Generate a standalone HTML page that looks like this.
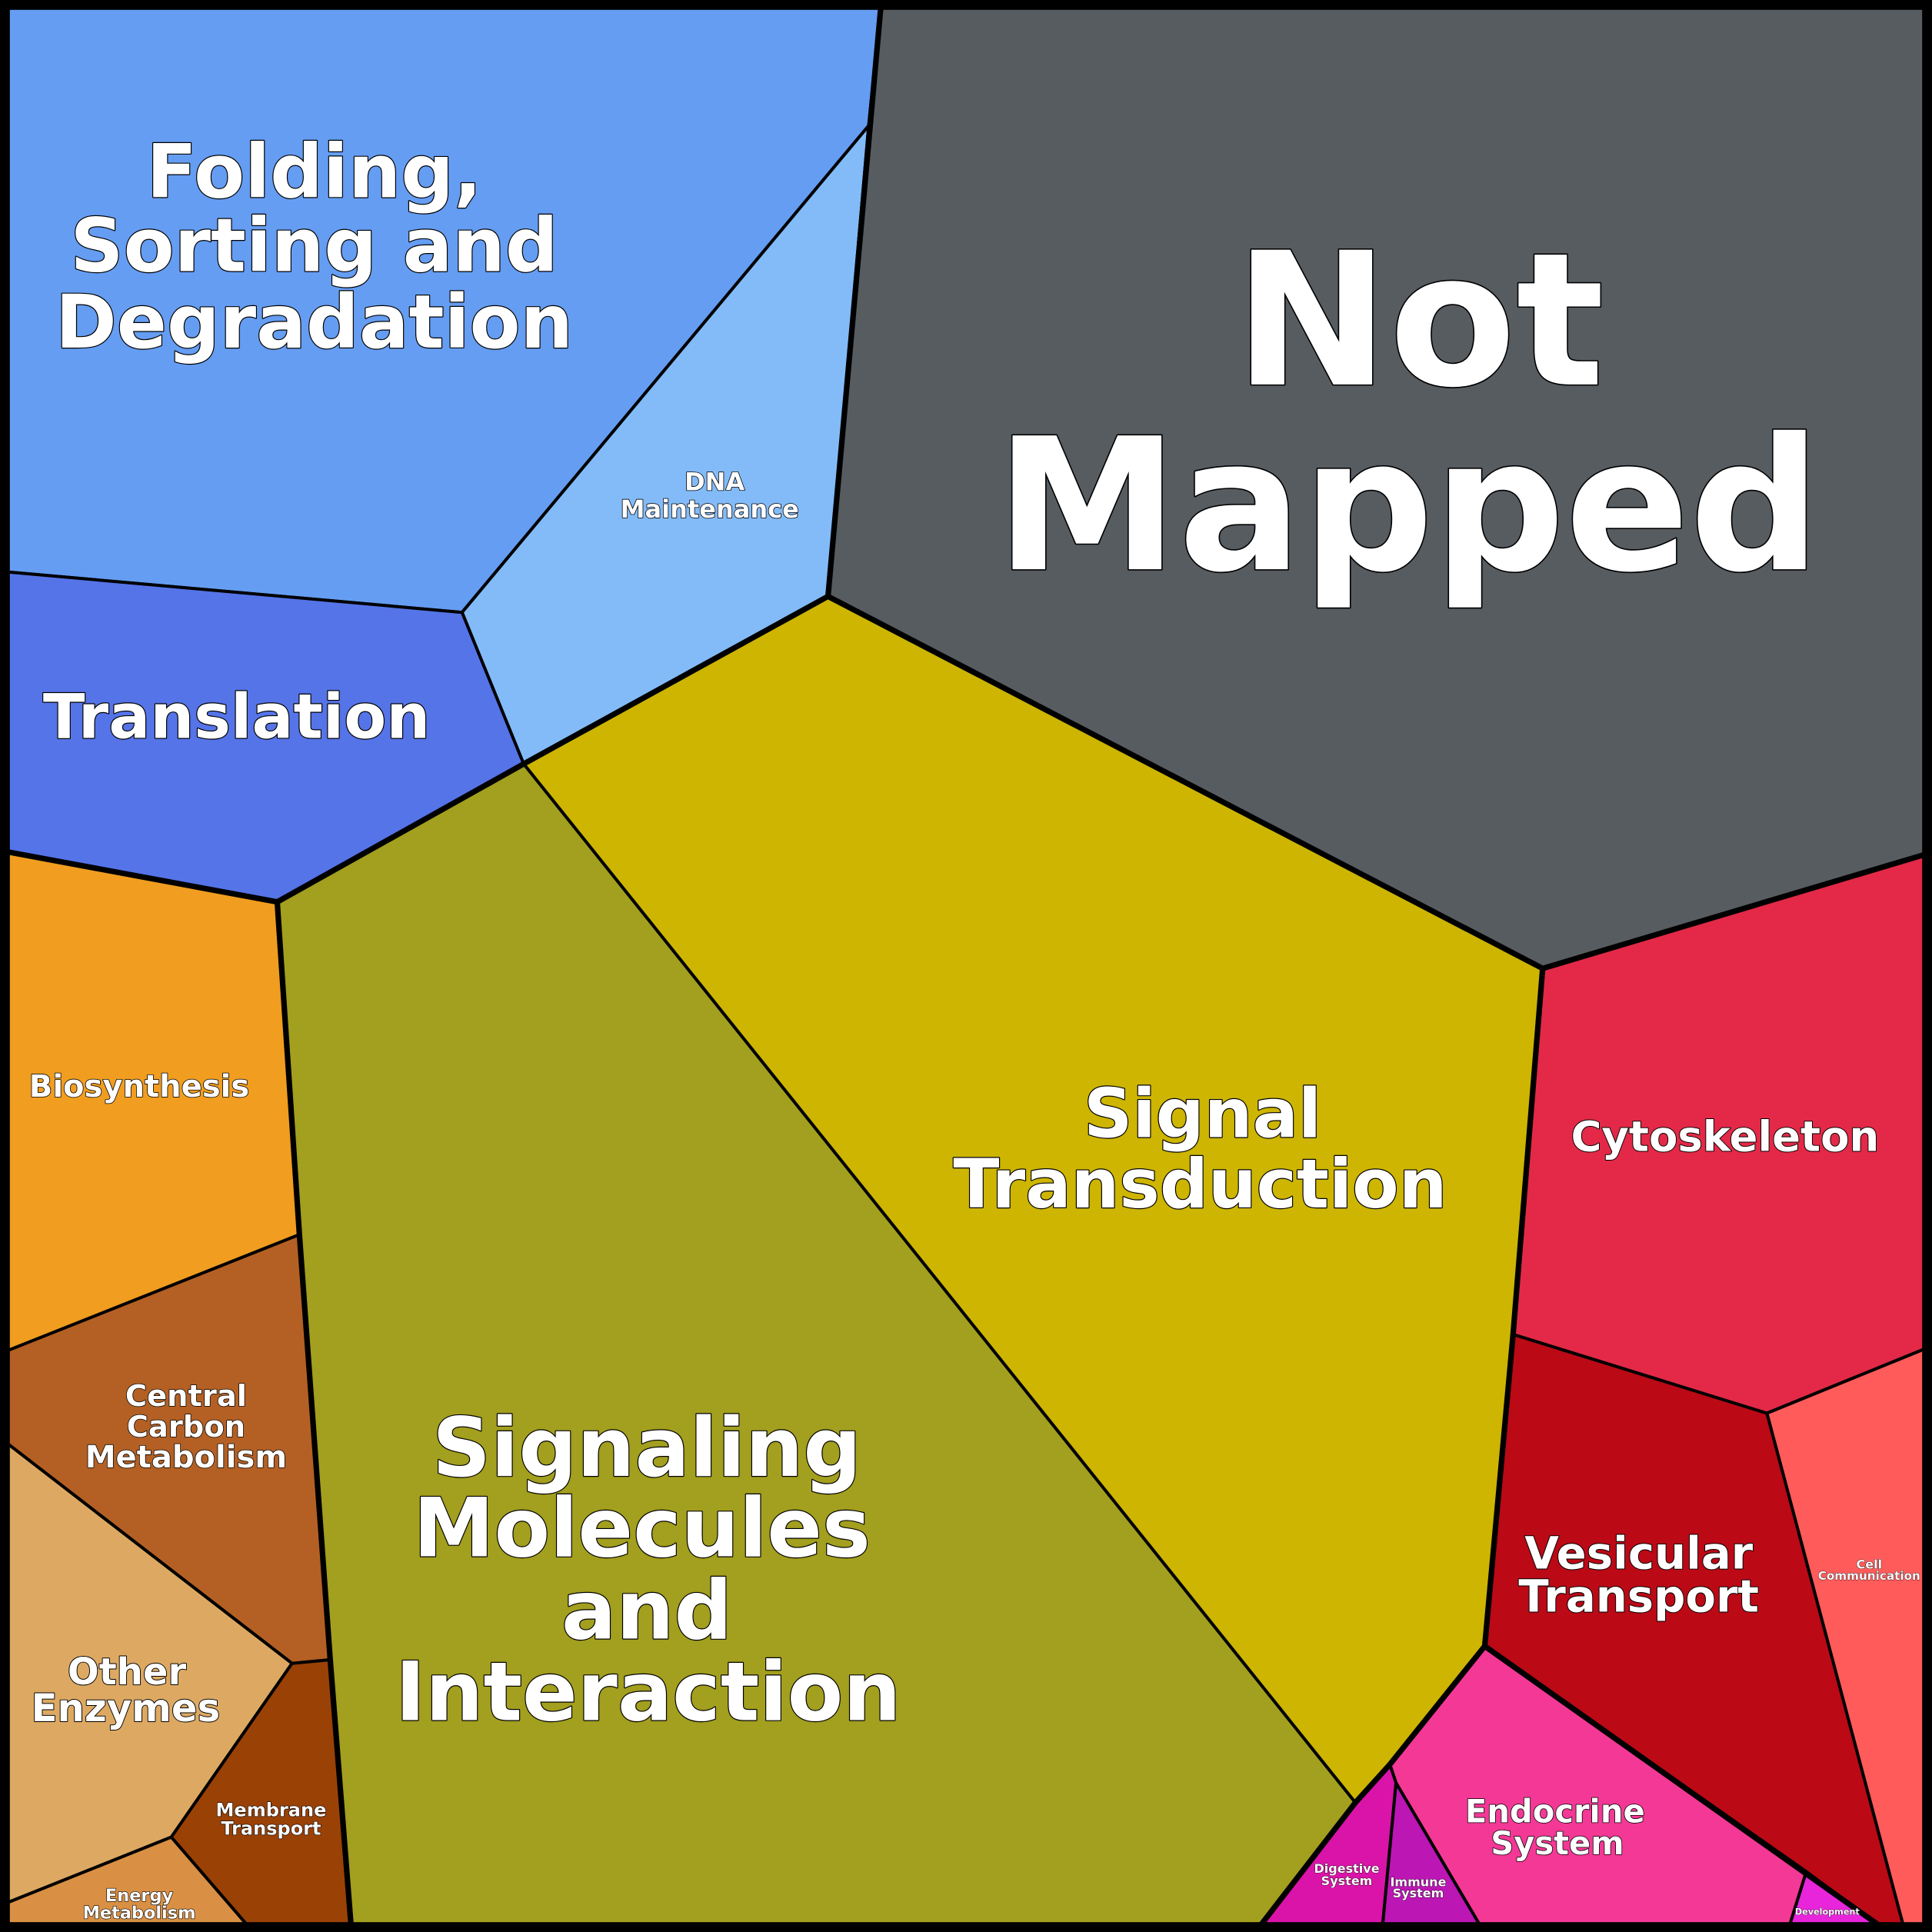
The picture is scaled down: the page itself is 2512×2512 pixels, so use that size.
<!DOCTYPE html>
<html><head><meta charset="utf-8"><style>
html,body{margin:0;padding:0;background:#000}
svg{display:block}
text{font-family:"DejaVu Sans","Liberation Sans",sans-serif;font-weight:bold;fill:#fff;text-anchor:middle;paint-order:stroke;stroke:#000;stroke-linejoin:round}
</style></head><body>
<svg width="2512" height="2512" viewBox="0 0 1568 1568" xmlns="http://www.w3.org/2000/svg">
<g stroke="#000" stroke-width="2.5" stroke-linejoin="round">
<polygon fill="#659df2" points="4,4 715,4 705,102 375,497 4,464"/>
<polygon fill="#83bbf8" points="705,102 672,484 425,620 375,497"/>
<polygon fill="#575c61" points="715,4 1564,4 1564,693 1252,786 672,484 705,102"/>
<polygon fill="#5574e8" points="4,464 375,497 425,620 225,732 4,691"/>
<polygon fill="#cdb502" points="672,484 1252,786 1228,1083 1205,1336 1128,1432 1100,1463 425,620"/>
<polygon fill="#a39f1f" points="425,620 1100,1463 1022,1564 285,1564 268,1347 243,1002 225,732"/>
<polygon fill="#f09d20" points="4,691 225,732 243,1002 4,1097"/>
<polygon fill="#b46024" points="4,1097 243,1002 268,1347 237,1350 4,1170"/>
<polygon fill="#dda962" points="4,1170 237,1350 139,1491 4,1545"/>
<polygon fill="#9a4106" points="237,1350 268,1347 285,1564 202,1564 139,1491"/>
<polygon fill="#d99044" points="4,1545 139,1491 202,1564 4,1564"/>
<polygon fill="#e32947" points="1252,786 1564,693 1564,1094 1434,1147 1228,1083"/>
<polygon fill="#ff5b5b" points="1434,1147 1564,1094 1564,1564 1545,1564"/>
<polygon fill="#bb0916" points="1228,1083 1434,1147 1545,1564 1527,1564 1205,1336"/>
<polygon fill="#f43896" points="1128,1432 1205,1336 1466,1519 1452,1564 1202,1564 1133,1447"/>
<polygon fill="#e825db" points="1466,1519 1527,1564 1452,1564"/>
<polygon fill="#da14a8" points="1100,1463 1128,1432 1133,1447 1122,1564 1022,1564"/>
<polygon fill="#bc16b4" points="1133,1447 1202,1564 1122,1564"/>
</g>
<g stroke="#000" stroke-width="4.5" fill="none" stroke-linejoin="round" stroke-linecap="round">
<polyline points="715,4 672,484 1252,786 1564,693"/>
<polyline points="672,484 425,620 225,732 4,691"/>
<polyline points="225,732 243,1002 268,1347 285,1564"/>
<polyline points="1252,786 1228,1083 1205,1336 1527,1564"/>
<polyline points="1205,1336 1128,1432 1100,1463 1022,1564"/>
</g>
<rect x="4" y="4" width="1560" height="1560" fill="none" stroke="#000" stroke-width="8"/>
<g>
<text font-size="150" stroke-width="2" x="1152" y="312">Not</text>
<text font-size="149" stroke-width="2" x="1143" y="462">Mapped</text>
<text font-size="60" stroke-width="1.5" x="255" y="160">Folding,</text>
<text font-size="60" stroke-width="1.5" x="255" y="220">Sorting and</text>
<text font-size="60" stroke-width="1.5" x="255" y="282">Degradation</text>
<text font-size="20" stroke-width="1" x="580" y="398">DNA</text>
<text font-size="20" stroke-width="1" x="576" y="420">Maintenance</text>
<text font-size="50" stroke-width="1.5" x="192" y="599">Translation</text>
<text font-size="55" stroke-width="1.5" x="976" y="923">Signal</text>
<text font-size="55" stroke-width="1.5" x="974" y="980">Transduction</text>
<text font-size="66" stroke-width="1.5" x="525" y="1198">Signaling</text>
<text font-size="66" stroke-width="1.5" x="521" y="1263">Molecules</text>
<text font-size="66" stroke-width="1.5" x="525" y="1330">and</text>
<text font-size="66" stroke-width="1.5" x="526" y="1396">Interaction</text>
<text font-size="34" stroke-width="1.2" x="1400" y="934">Cytoskeleton</text>
<text font-size="25" stroke-width="1" x="113" y="890">Biosynthesis</text>
<text font-size="24" stroke-width="1" x="151" y="1141">Central</text>
<text font-size="24" stroke-width="1" x="151" y="1166">Carbon</text>
<text font-size="25" stroke-width="1" x="151" y="1191">Metabolism</text>
<text font-size="30" stroke-width="1.2" x="103" y="1367">Other</text>
<text font-size="31" stroke-width="1.2" x="102" y="1397">Enzymes</text>
<text font-size="15" stroke-width="0.8" x="220" y="1474">Membrane</text>
<text font-size="15" stroke-width="0.8" x="220" y="1489">Transport</text>
<text font-size="14" stroke-width="0.8" x="113" y="1543">Energy</text>
<text font-size="14" stroke-width="0.8" x="113" y="1557">Metabolism</text>
<text font-size="36" stroke-width="1.2" x="1330" y="1273">Vesicular</text>
<text font-size="36" stroke-width="1.2" x="1330" y="1308">Transport</text>
<text font-size="10" stroke-width="0.5" x="1517" y="1273">Cell</text>
<text font-size="9.5" stroke-width="0.5" x="1517" y="1282">Communication</text>
<text font-size="26" stroke-width="1" x="1262" y="1479">Endocrine</text>
<text font-size="26" stroke-width="1" x="1264" y="1505">System</text>
<text font-size="10" stroke-width="0.5" x="1093" y="1520">Digestive</text>
<text font-size="10" stroke-width="0.5" x="1093" y="1530">System</text>
<text font-size="10" stroke-width="0.5" x="1151" y="1531">Immune</text>
<text font-size="10" stroke-width="0.5" x="1151" y="1540">System</text>
<text font-size="7" stroke-width="0.4" x="1483" y="1554">Development</text>
</g>
</svg>
</body></html>
